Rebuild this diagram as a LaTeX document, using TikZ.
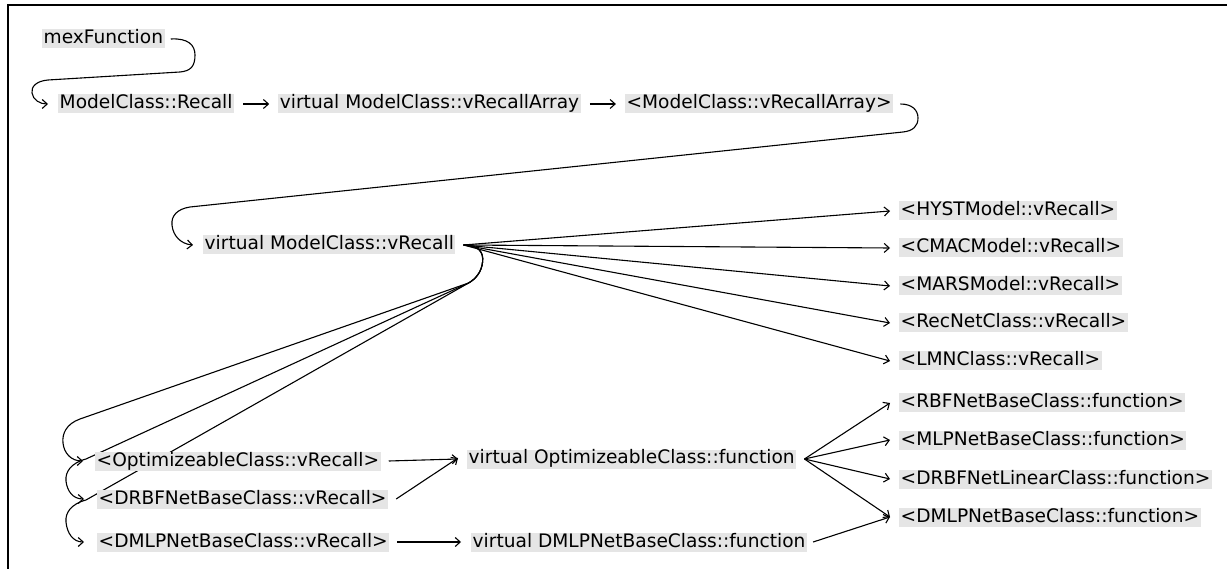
\documentclass[tikz,border=0pt]{standalone}
\usepackage{fontspec}
\setmainfont{DejaVu Sans}
\usetikzlibrary{arrows.meta,positioning,backgrounds}
\begin{document}
\begin{tikzpicture}[x=1pt,y=-1pt,
  fn/.style={fill=black!10, inner xsep=1.5pt, inner ysep=1pt,
    text height=13.5pt, text depth=3.5pt, anchor=west,
    font=\fontsize{18.6}{20}\selectfont},
  call/.style={line width=1.1pt,
    -{Straight Barb[length=5pt,width=9pt,line width=1.1pt]}},
  line/.style={line width=1.1pt}]

\useasboundingbox (0,0) rectangle (1227,569);
\draw[line width=1.5pt] (8,569) -- (8,5) -- (1227,5);

% call chain at the top
\node[fn] (mex) at (42,39) {mexFunction};
\node[fn] (mcr) at (58,104) {ModelClass::Recall};
\node[fn, right=44pt of mcr] (vra) {virtual ModelClass::vRecallArray};
\node[fn, right=44pt of vra] (mra) {<ModelClass::vRecallArray>};

% dispatcher and its model implementations
\node[fn] (vr) at (203,245) {virtual ModelClass::vRecall};
\node[fn] (hyst)   at (899,211) {<HYSTModel::vRecall>};
\node[fn] (cmac)   at (899,248) {<CMACModel::vRecall>};
\node[fn] (mars)   at (899,286) {<MARSModel::vRecall>};
\node[fn] (recnet) at (899,323) {<RecNetClass::vRecall>};
\node[fn] (lmn)    at (899,361) {<LMNClass::vRecall>};

% network classes
\node[fn] (opt)   at (95,461) {<OptimizeableClass::vRecall>};
\node[fn] (drbf)  at (97,499) {<DRBFNetBaseClass::vRecall>};
\node[fn] (dmlp)  at (97,542) {<DMLPNetBaseClass::vRecall>};
\node[fn] (vopt)  at (467,459) {virtual OptimizeableClass::function};
\node[fn] (vdmlp) at (471,542) {virtual DMLPNetBaseClass::function};
\node[fn] (rbffn)   at (899,403) {<RBFNetBaseClass::function>};
\node[fn] (mlpfn)   at (899,440) {<MLPNetBaseClass::function>};
\node[fn] (drbflin) at (899,479) {<DRBFNetLinearClass::function>};
\node[fn] (dmlpfn)  at (899,517) {<DMLPNetBaseClass::function>};

\begin{pgfonlayer}{background}
  % top chain
  \draw[call] ([xshift=6pt]mex.east) .. controls (188,38) and (195,45) .. (195,55)
     .. controls (195,66) and (191,71) .. (180,72) -- (48,80)
     .. controls (36,81) and (31,87) .. (32,93)
     .. controls (33,100) and (40,104) .. ([xshift=-10pt]mcr.west);
  \draw[call] ([xshift=9pt]mcr.east) -- ([xshift=-9pt]vra.west);
  \draw[call] ([xshift=9pt]vra.east) -- ([xshift=-9pt]mra.west);
  \draw[call] ([xshift=7pt]mra.east) .. controls (912,104) and (918,110) .. (918,118)
     .. controls (918,126) and (913,131) .. (903,132) -- (190,207)
     .. controls (177,209) and (171,216) .. (172,225)
     .. controls (173,236) and (181,244) .. ([xshift=-10pt]vr.west);

  % fan-out from the dispatcher
  \coordinate (vrs) at ([xshift=8pt]vr.east);
  \foreach \t in {hyst,cmac,mars,recnet,lmn}
    \draw[call] (vrs) -- ([xshift=-9pt]\t.west);

  \draw[call] (vrs) .. controls +(16,0) and +(1,-9) .. ++(19,17)
     .. controls +(-1,10) and +(7,-4) .. ++(-14,21) -- (80,419)
     .. controls (66,424) and (62,434) .. (63,443)
     .. controls (64,453) and (71,461) .. ([xshift=-12pt]opt.west);
  \draw[call] (vrs) .. controls +(16,0) and +(1,-9) .. ++(19,17)
     .. controls +(-1,10) and +(7,-4) .. ++(-14,21) -- (86,459)
     .. controls (71,463) and (65,472) .. (66,481)
     .. controls (67,491) and (73,499) .. ([xshift=-13pt]drbf.west);
  \draw[call] (vrs) .. controls +(16,0) and +(1,-9) .. ++(19,17)
     .. controls +(-1,10) and +(7,-4) .. ++(-14,21) -- (86,500)
     .. controls (71,504) and (65,513) .. (66,522)
     .. controls (67,533) and (73,542) .. ([xshift=-13pt]dmlp.west);

  % network calls
  \draw[call] ([xshift=8pt]opt.east) -- ([xshift=-9pt]vopt.west);
  \draw[call] ([xshift=8pt]drbf.east) -- ([xshift=-9pt,yshift=1pt]vopt.west);
  \draw[call] ([xshift=8pt]dmlp.east) -- ([xshift=-10pt]vdmlp.west);
  \coordinate (vos) at ([xshift=8pt]vopt.east);
  \foreach \t in {rbffn,mlpfn,drbflin,dmlpfn}
    \draw[call] (vos) -- ([xshift=-9pt]\t.west);
  \draw[call] ([xshift=6pt]vdmlp.east) -- ([xshift=-9pt]dmlpfn.west);
\end{pgfonlayer}
\end{tikzpicture}
\end{document}
